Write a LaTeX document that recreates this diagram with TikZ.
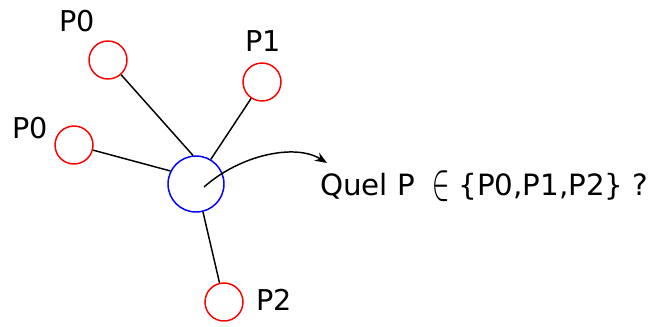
\documentclass[tikz,border=0pt]{standalone}
\usepackage{fontspec}
\usepackage{graphicx}
\setmainfont{DejaVu Sans}
\usetikzlibrary{arrows.meta}
\begin{document}
\begin{tikzpicture}[x=0.75pt,y=-0.75pt,
  pnode/.style={circle,draw=red,line width=1.1pt,minimum size=28.5pt,inner sep=0pt},
  cnode/.style={circle,draw=blue,line width=1.1pt,minimum size=42pt,inner sep=0pt},
  lbl/.style={font=\fontsize{21.5pt}{26pt}\selectfont,inner sep=0pt},
  qlbl/.style={font=\fontsize{22pt}{26pt}\selectfont,inner sep=0pt},
  link/.style={line width=1.1pt}]
\useasboundingbox (0,0) rectangle (660,326);
\node[cnode] (c) at (196,184) {};
\node[pnode] (p0a) at (108,60) {};
\node[pnode] (p1) at (262,82) {};
\node[pnode] (p0b) at (74,145) {};
\node[pnode] (p2) at (224,302) {};
\node[lbl] (l0a) at (77,21) {P0};
\node[lbl] (l1) at (263,41) {P1};
\node[lbl] (l0b) at (30,128) {P0};
\node[lbl] (l2) at (274,300) {P2};
\draw[link] (p0a) -- (c.96);
\draw[link] (p1) -- (c.59);
\draw[link] (p0b) -- (c.153);
\draw[link] (p2) -- (c.-76);
\node[qlbl,anchor=base west] (q) at (320,195) {Quel P\hspace{13pt}\raisebox{-3pt}{\resizebox{13pt}{21.5pt}{$\in$}}\hspace{6.5pt}\{P0,P1,P2\} ?};
\coordinate (s) at (204,187);
\coordinate (e) at (327,163);
\draw[link,-{Stealth[length=9pt,width=7pt]}] (s) .. controls (240,155) and (295,143) .. (e);
\end{tikzpicture}
\end{document}
